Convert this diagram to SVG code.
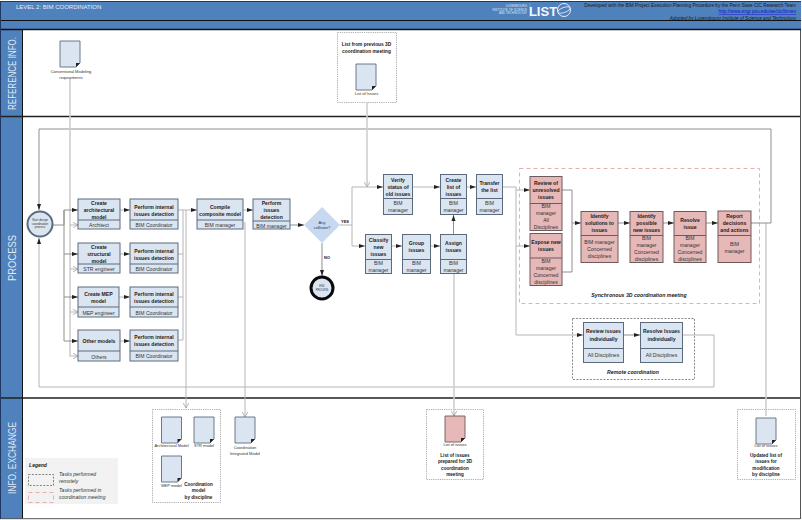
<svg xmlns="http://www.w3.org/2000/svg" xmlns:xlink="http://www.w3.org/1999/xlink" width="802" height="520" viewBox="0 0 802 520">
<style>
text{font-family:"Liberation Sans",Arial,sans-serif;fill:#1a1a1a;text-anchor:middle}
.b{font-weight:bold;font-size:5.1px}
.r{font-size:5.1px;fill:#333}
.s{font-size:4px;fill:#333}
.lane{font-size:10.5px;fill:#dfe8f5}
.it{font-weight:bold;font-style:italic;font-size:5.2px}
.task rect{fill:#dbe5f1;stroke:#5b6b7d;stroke-width:1}
.pink rect{fill:#e6b8b7;stroke:#6f5a5a;stroke-width:1}
.con path{fill:none;stroke:#b5b5b5;stroke-width:1}
.dk{stroke:#8f8f8f!important}
.flow{marker-end:url(#a)}
.open{marker-end:url(#o)}
.hv{stroke-width:1.6!important;stroke:#cfcfcf!important}
.dash{fill:none;stroke:#555;stroke-width:.7;stroke-dasharray:2 1.4}
.dots{fill:#fff;stroke:#8a8a8a;stroke-width:.7;stroke-dasharray:1.2 1}
.pd{fill:none;stroke:#e0a9a6;stroke-width:.9;stroke-dasharray:4 3}
.doc{fill:#dbe5f1;stroke:#5f6b7a;stroke-width:.9}
.dp{fill:#e6b8b7;stroke:#6f5a5a;stroke-width:.9}
</style>
<defs>
<marker id="a" markerWidth="7" markerHeight="5" refX="6" refY="2.5" orient="auto" markerUnits="userSpaceOnUse"><path d="M0 .5L6 2.5L0 4.5Z" fill="#222"/></marker>
<marker id="o" markerWidth="7" markerHeight="7" refX="5.5" refY="3" orient="auto" markerUnits="userSpaceOnUse"><path d="M0 0L5.5 3L0 6" fill="none" stroke="#999" stroke-width=".7"/></marker>
<path id="d" d="M0 0H20V22L16 26H0Z"/>
<path id="f" d="M20 22L16 26V22Z" fill="#222" stroke="none"/>
</defs>

<rect width="802" height="520" fill="#fff"/>
<g id="frame">
<rect x="1" y="1" width="800" height="28" fill="#4f81bd"/>
<rect x="0" y="30" width="22" height="489" fill="#4f81bd"/>
<path d="M1 1.500H801" stroke="#1f3864" stroke-width="1" fill="none"/>
<path d="M0 20.500H801" stroke="#111" stroke-width="1"/>
<path d="M0 29.500H801" stroke="#111" stroke-width="1.400"/>
<path d="M0 116.500H801M0 398H801" stroke="#222" stroke-width="1.600"/>
<path d="M22.500 29V519" stroke="#111" stroke-width="1" fill="none"/>
<path d="M0 518.700H800M800.500 30V519" stroke="#555" stroke-width="1" fill="none"/>
<path d="M.5 1V519" stroke="#1f3864" stroke-width="1"/>
<text x="16" y="8.500" style="text-anchor:start;font-size:6px;fill:#e8eef7">LEVEL 2:  BIM COORDINATION</text>
<text transform="translate(15.500 73.500) rotate(-90)" class="lane" textLength="73" lengthAdjust="spacingAndGlyphs">REFERENCE INFO.</text>
<text transform="translate(15.500 258) rotate(-90)" class="lane" textLength="46" lengthAdjust="spacingAndGlyphs">PROCESS</text>
<text transform="translate(15.500 458) rotate(-90)" class="lane" textLength="72" lengthAdjust="spacingAndGlyphs">INFO. EXCHANGE</text>
<text x="527" y="7" style="text-anchor:end;font-size:3px;fill:#dfe8f5">LUXEMBOURG</text>
<text x="527" y="10.500" style="text-anchor:end;font-size:3px;fill:#dfe8f5">INSTITUTE OF SCIENCE</text>
<text x="527" y="14" style="text-anchor:end;font-size:3px;fill:#dfe8f5">AND TECHNOLOGY</text>
<path d="M530 3V17" stroke="#9db7d8" stroke-width=".5"/>
<text x="543" y="16" style="font-size:13px;font-weight:bold;fill:#f2f5fa">LIST</text>
<circle cx="564" cy="10" r="6.500" fill="none" stroke="#e8eef7" stroke-width="1"/>
<ellipse cx="564" cy="10" rx="6.500" ry="2.500" fill="none" stroke="#e8eef7" stroke-width=".8" transform="rotate(-20 564 10)"/>
<text x="796" y="6.800" style="text-anchor:end;font-size:4.700px">Developed with the BIM Project Execution Planning Procedure by the Penn State CIC Research Team</text>
<text x="796" y="13" style="text-anchor:end;font-size:4.700px;fill:#1414d0;text-decoration:underline">http://www.engr.psu.edu/ae/cic/bimex</text>
<text x="796" y="19.500" style="text-anchor:end;font-size:4.700px;font-style:italic">Adopted by Luxembourg Institute of Science and Technology</text>
</g>

<g id="containers">
<rect class="dots" x="337.500" y="32.500" width="59" height="70"/>
<rect class="pd" x="519.500" y="168.500" width="240" height="135"/>
<rect class="dash" x="572.500" y="318.500" width="122" height="61"/>
<rect class="dots" x="152.500" y="409.500" width="68" height="93"/>
<rect class="dots" x="426.500" y="409.500" width="57" height="70"/>
<rect class="dots" x="737.500" y="409.500" width="58" height="70"/>
</g>

<g id="connectors" class="con">
<path class="hv" d="M766 223V416"/>
<path class="flow dk" d="M751 223H771V129H39V210"/>
<path class="flow" d="M682 335H714V387H39V238"/>
<path class="open hv" d="M70 78V356H78"/>
<path class="open" d="M70 225H78"/>
<path class="open" d="M70 269H78"/>
<path class="open" d="M70 312H78"/>
<path class="open hv" d="M367 102V187"/>
<path class="flow dk" d="M53 225H64V210H78"/>
<path class="dk" d="M64 210V341"/>
<path class="flow dk" d="M64 254H78"/>
<path class="flow dk" d="M64 297H78"/>
<path class="flow dk" d="M64 341H78"/>
<path class="flow" d="M120 210H130"/>
<path class="flow" d="M120 254H130"/>
<path class="flow" d="M119 297H130"/>
<path class="flow" d="M120 341H130"/>
<path class="flow" d="M178 210H197"/>
<path d="M178 254H183M178 297H183M178 340H183M183 210V340"/>
<path class="open" d="M186 210V408"/>
<path class="open" d="M245 222V417"/>
<path class="flow" d="M243 210H253"/>
<path class="flow dk" d="M290 225H304"/>
<path class="flow dk" d="M322 243V276"/>
<path class="flow" d="M340 225H352V187H383"/>
<path class="flow" d="M352 225V246H365"/>
<path class="flow" d="M413 187H440"/>
<path class="flow" d="M467 187H476"/>
<path class="flow" d="M392 246H402"/>
<path class="flow" d="M431 246H440"/>
<path class="flow dk" d="M453.500 234V215"/>
<path class="open hv" d="M454 274V416"/>
<path class="flow" d="M503 187H516V190H530"/>
<path class="flow" d="M516 190V246H530"/>
<path class="flow" d="M516 246V335H583"/>
<path class="flow dk" d="M562 190H572V223H581"/>
<path class="dk" d="M562 272H572V223"/>
<path class="flow dk" d="M618 223H630"/>
<path class="flow dk" d="M663 223H674"/>
<path class="flow dk" d="M706 223H718"/>
<path class="flow dk" d="M623 335H640"/>
</g>

<g id="start"><circle cx="40" cy="224" r="12.500" fill="#dbe5f1" stroke="#5b6b7d" stroke-width="2"/><text class="s" style="font-size:3px" x="40" y="221">Start design</text><text class="s" style="font-size:3px" x="40" y="224.700">coordination</text><text class="s" style="font-size:3px" x="40" y="228.400">process</text></g>

<g id="t1" class="task"><rect x="78" y="199" width="42" height="30"/><path d="M78 220H120" stroke="#5b6b7d"/><text class="b" x="99" y="205">Create</text><text class="b" x="99" y="211.500">architectural</text><text class="b" x="99" y="218.500">model</text><text class="r" x="99" y="227">Architect</text></g>
<g id="t2" class="task"><rect x="130" y="199" width="48" height="30"/><path d="M130 220H178" stroke="#5b6b7d"/><text class="b" x="154" y="208.500">Perform internal</text><text class="b" x="154" y="215.500">issues detection</text><text class="r" x="154" y="227">BIM Coordinator</text></g>
<g id="t3" class="task"><rect x="78" y="243" width="42" height="30"/><path d="M78 264H120" stroke="#5b6b7d"/><text class="b" x="99" y="249">Create</text><text class="b" x="99" y="255.500">structural</text><text class="b" x="99" y="262.500">model</text><text class="r" x="99" y="271">STR engineer</text></g>
<g id="t4" class="task"><rect x="130" y="243" width="48" height="30"/><path d="M130 264H178" stroke="#5b6b7d"/><text class="b" x="154" y="252.500">Perform internal</text><text class="b" x="154" y="259.500">issues detection</text><text class="r" x="154" y="271">BIM Coordinator</text></g>
<g id="t5" class="task"><rect x="78" y="287" width="41" height="30"/><path d="M78 307H119" stroke="#5b6b7d"/><text class="b" x="98.500" y="296">Create MEP</text><text class="b" x="98.500" y="303">model</text><text class="r" x="98.500" y="315">MEP engineer</text></g>
<g id="t6" class="task"><rect x="130" y="287" width="48" height="30"/><path d="M130 307H178" stroke="#5b6b7d"/><text class="b" x="154" y="296">Perform internal</text><text class="b" x="154" y="303">issues detection</text><text class="r" x="154" y="314.500">BIM Coordinator</text></g>
<g id="t7" class="task"><rect x="78" y="330" width="42" height="31"/><path d="M78 351H120" stroke="#5b6b7d"/><text class="b" x="99" y="343">Other models</text><text class="r" x="99" y="358.500">Others</text></g>
<g id="t8" class="task"><rect x="130" y="330" width="48" height="31"/><path d="M130 351H178" stroke="#5b6b7d"/><text class="b" x="154" y="339">Perform internal</text><text class="b" x="154" y="346">issues detection</text><text class="r" x="154" y="358">BIM Coordinator</text></g>
<g id="t9" class="task"><rect x="197" y="199" width="46" height="30"/><path d="M197 220H243" stroke="#5b6b7d"/><text class="b" x="220" y="208.500">Compile</text><text class="b" x="220" y="215.500">composite model</text><text class="r" x="220" y="227">BIM manager</text></g>
<g id="t10" class="task"><rect x="253" y="199" width="37" height="30"/><path d="M253 221H290" stroke="#5b6b7d"/><text class="b" x="271.500" y="205">Perform</text><text class="b" x="271.500" y="211.500">issues</text><text class="b" x="271.500" y="218.500">detection</text><text class="r" x="271.500" y="227.500">BIM manager</text></g>
<g id="gate"><path d="M322 207L340 225L322 243L304 225Z" fill="#c6d9f1"/><text class="s" x="322" y="223.500">Any</text><text class="s" x="322" y="228.500">collision?</text><text class="s" style="font-weight:bold;fill:#111" x="345" y="223">YES</text><text class="s" style="font-weight:bold;fill:#111" x="327" y="259">NO</text></g>
<g id="end"><circle cx="322" cy="288" r="11" fill="#dbe5f1" stroke="#0a0a0a" stroke-width="3"/><text class="s" style="font-size:2.600px" x="322" y="287">END</text><text class="s" style="font-size:2.600px" x="322" y="290.500">PROCESS</text></g>
<g id="t11" class="task"><rect x="383.500" y="174.500" width="29" height="40"/><path d="M383.500 198.500H412.500" stroke="#5b6b7d"/><text class="b" x="398" y="182">Verify</text><text class="b" x="398" y="189">status of</text><text class="b" x="398" y="196">old issues</text><text class="r" x="398" y="205">BIM</text><text class="r" x="398" y="212">manager</text></g>
<g id="t12" class="task"><rect x="440.500" y="174.500" width="26" height="40"/><path d="M440.500 198.500H466.500" stroke="#5b6b7d"/><text class="b" x="453.500" y="182">Create</text><text class="b" x="453.500" y="189">list of</text><text class="b" x="453.500" y="196">issues</text><text class="r" x="453.500" y="205">BIM</text><text class="r" x="453.500" y="212">manager</text></g>
<g id="t13" class="task"><rect x="476.500" y="174.500" width="26" height="40"/><path d="M476.500 198.500H502.500" stroke="#5b6b7d"/><text class="b" x="489.500" y="185">Transfer</text><text class="b" x="489.500" y="192">the list</text><text class="r" x="489.500" y="205">BIM</text><text class="r" x="489.500" y="212">manager</text></g>
<g id="t14" class="task"><rect x="365.500" y="234.500" width="26" height="39"/><path d="M365.500 259.500H391.500" stroke="#5b6b7d"/><text class="b" x="378.500" y="242">Classify</text><text class="b" x="378.500" y="249">new</text><text class="b" x="378.500" y="256">issues</text><text class="r" x="378.500" y="265">BIM</text><text class="r" x="378.500" y="272">manager</text></g>
<g id="t15" class="task"><rect x="402.500" y="234.500" width="28" height="39"/><path d="M402.500 259.500H430.500" stroke="#5b6b7d"/><text class="b" x="416.500" y="245">Group</text><text class="b" x="416.500" y="252">issues</text><text class="r" x="416.500" y="265">BIM</text><text class="r" x="416.500" y="272">manager</text></g>
<g id="t16" class="task"><rect x="440.500" y="234.500" width="26" height="39"/><path d="M440.500 259.500H466.500" stroke="#5b6b7d"/><text class="b" x="453.500" y="245">Assign</text><text class="b" x="453.500" y="252">issues</text><text class="r" x="453.500" y="265">BIM</text><text class="r" x="453.500" y="272">manager</text></g>
<g id="t17" class="pink"><rect x="530" y="176.500" width="32" height="54"/><path d="M530 203.500H562" stroke="#6f5a5a"/><text class="b" x="546" y="185">Review of</text><text class="b" x="546" y="192">unresolved</text><text class="b" x="546" y="199">issues</text><text class="r" x="546" y="208">BIM</text><text class="r" x="546" y="215">manager</text><text class="r" x="546" y="222">All</text><text class="r" x="546" y="229">Disciplines</text></g>
<g id="t18" class="pink"><rect x="530" y="233.500" width="32" height="52"/><path d="M530 258H562" stroke="#6f5a5a"/><text class="b" x="546" y="244">Expose new</text><text class="b" x="546" y="251">issues</text><text class="r" x="546" y="263">BIM</text><text class="r" x="546" y="270">manager</text><text class="r" x="546" y="277">Concerned</text><text class="r" x="546" y="284">disciplines</text></g>
<g id="t19" class="pink"><rect x="581" y="211.500" width="37" height="51"/><path d="M581 235.500H618" stroke="#6f5a5a"/><text class="b" x="599.500" y="218">Identify</text><text class="b" x="599.500" y="225">solutions to</text><text class="b" x="599.500" y="232">issues</text><text class="r" x="599.500" y="244">BIM manager</text><text class="r" x="599.500" y="251">Concerned</text><text class="r" x="599.500" y="258">disciplines</text></g>
<g id="t20" class="pink"><rect x="630" y="211.500" width="33" height="51"/><path d="M630 235.500H663" stroke="#6f5a5a"/><text class="b" x="646.500" y="218">Identify</text><text class="b" x="646.500" y="225">possible</text><text class="b" x="646.500" y="232">new issues</text><text class="r" x="646.500" y="240">BIM</text><text class="r" x="646.500" y="247">manager</text><text class="r" x="646.500" y="254">Concerned</text><text class="r" x="646.500" y="261">disciplines</text></g>
<g id="t21" class="pink"><rect x="674" y="211.500" width="32" height="51"/><path d="M674 235.500H706" stroke="#6f5a5a"/><text class="b" x="690" y="222">Resolve</text><text class="b" x="690" y="229">issue</text><text class="r" x="690" y="240">BIM</text><text class="r" x="690" y="247">manager</text><text class="r" x="690" y="254">Concerned</text><text class="r" x="690" y="261">disciplines</text></g>
<g id="t22" class="pink"><rect x="718" y="211" width="33" height="51.500"/><path d="M718 235.500H751" stroke="#6f5a5a"/><text class="b" x="734.500" y="218">Report</text><text class="b" x="734.500" y="225">decisions</text><text class="b" x="734.500" y="232">and actions</text><text class="r" x="734.500" y="246">BIM</text><text class="r" x="734.500" y="253">manager</text></g>
<g id="t23" class="task"><rect x="583.500" y="322.500" width="40" height="40"/><path d="M583.500 348.500H623.500" stroke="#5b6b7d"/><text class="b" x="603.500" y="333">Review issues</text><text class="b" x="603.500" y="341">individually</text><text class="r" x="603.500" y="357">All Disciplines</text></g>
<g id="t24" class="task"><rect x="640.500" y="322.500" width="42" height="40"/><path d="M640.500 348.500H682.500" stroke="#5b6b7d"/><text class="b" x="661.500" y="333">Resolve Issues</text><text class="b" x="661.500" y="341">individually</text><text class="r" x="661.500" y="357">All Disciplines</text></g>
<g id="labels">
<text class="it" x="639" y="297">Synchronous 3D coordination meeting</text>
<text class="it" x="633" y="374">Remote coordination</text>
</g>

<g id="doc1"><use href="#d" class="doc" x="60" y="41"/><use href="#f" x="60" y="41"/><text class="s" x="71" y="73">Conventional Modeling</text><text class="s" x="71" y="78.500">requirements</text></g>
<g id="doc2"><text class="b" style="font-size:4.800px" x="366.500" y="46">List from previous 3D</text><text class="b" style="font-size:4.800px" x="366.500" y="52.500">coordination meeting</text><use href="#d" class="doc" x="356" y="64"/><use href="#f" x="356" y="64"/><text class="s" x="366.500" y="95">List of Issues</text></g>
<g id="doc3"><use href="#d" class="doc" x="161.500" y="417"/><use href="#f" x="161.500" y="417"/><text class="s" x="171.500" y="446.500">Architectural Model</text></g>
<g id="doc4"><use href="#d" class="doc" x="194" y="417"/><use href="#f" x="194" y="417"/><text class="s" x="204" y="446.500">STR model</text></g>
<g id="doc5"><use href="#d" class="doc" x="161.500" y="456"/><use href="#f" x="161.500" y="456"/><text class="s" x="171.500" y="487">MEP model</text></g>
<g id="doc6"><text class="b" style="font-size:4.600px" x="198.500" y="486">Coordination</text><text class="b" style="font-size:4.600px" x="198.500" y="492">model</text><text class="b" style="font-size:4.600px" x="198.500" y="498.500">by discipline</text></g>
<g id="doc7"><use href="#d" class="doc" x="235" y="417"/><use href="#f" x="235" y="417"/><text class="s" x="245" y="449">Coordination</text><text class="s" x="245" y="455">Integrated Model</text></g>
<g id="doc8"><use href="#d" class="dp" x="445" y="416"/><use href="#f" x="445" y="416"/><text class="s" x="455" y="446">List of issues</text><text class="b" style="font-size:4.600px" x="455" y="457">List of issues</text><text class="b" style="font-size:4.600px" x="455" y="463">prepared for 3D</text><text class="b" style="font-size:4.600px" x="455" y="469.500">coordination</text><text class="b" style="font-size:4.600px" x="455" y="476">meeting</text></g>
<g id="doc9"><use href="#d" class="doc" x="756" y="418"/><use href="#f" x="756" y="418"/><text class="s" x="766" y="447">List of issues</text><text class="b" style="font-size:4.600px" x="766" y="457">Updated list of</text><text class="b" style="font-size:4.600px" x="766" y="463">issues for</text><text class="b" style="font-size:4.600px" x="766" y="470">modification</text><text class="b" style="font-size:4.600px" x="766" y="476">by discipline</text></g>

<g id="legend">
<rect x="25" y="458" width="93" height="46" fill="#f2f2f2"/>
<text class="it" x="38" y="467" style="font-size:5px">Legend</text>
<rect class="dash" x="28.500" y="474.500" width="25" height="11"/>
<rect class="pd" x="28.500" y="492.500" width="25" height="10"/>
<text x="59" y="476" style="text-anchor:start;font-style:italic;font-size:5px;fill:#333">Tasks performed</text>
<text x="59" y="483" style="text-anchor:start;font-style:italic;font-size:5px;fill:#333">remotely</text>
<text x="59" y="492" style="text-anchor:start;font-style:italic;font-size:5px;fill:#333">Tasks performed in</text>
<text x="59" y="499" style="text-anchor:start;font-style:italic;font-size:5px;fill:#333">coordination meeting</text>
</g>
</svg>
